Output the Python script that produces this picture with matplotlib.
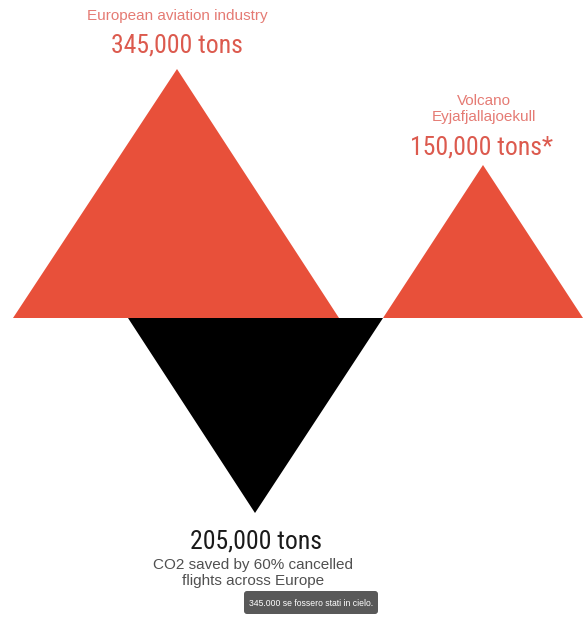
import matplotlib.pyplot as plt
from matplotlib.patches import Polygon, FancyBboxPatch

# Values shown on the infographic (tons of CO2)
labels = ["European aviation industry", "Volcano\nEyjafjallajoekull", "CO2 saved by 60% cancelled\nflights across Europe"]
values = [345000, 150000, 205000]
suffix = [" tons", " tons*", " tons"]
tooltip = "345.000 se fossero stati in cielo."

# Layout (pixel space of the image)
W, H = 587, 617
base_y = 318
shapes = [
    # (left, right, apex_x, apex_y, colour)
    (13, 339, 177, 69, "#e8503a"),
    (383, 583, 483, 165, "#e8503a"),
    (128, 383, 255, 513, "#000000"),
]

fig = plt.figure(figsize=(W / 100, H / 100), dpi=100)
ax = fig.add_axes([0, 0, 1, 1])
ax.set_xlim(0, W)
ax.set_ylim(H, 0)
ax.axis("off")

for left, right, ax_x, ax_y, col in shapes:
    tri = Polygon([(left, base_y), (right, base_y), (ax_x, ax_y)], closed=True,
                  facecolor=col, edgecolor="none")
    ax.add_patch(tri)

num_font = ["Roboto Condensed", "Liberation Sans Narrow", "Roboto", "DejaVu Sans"]
lab_font = ["Liberation Sans", "DejaVu Sans"]

def fmt(v, s):
    return f"{v:,}" + s

# European aviation
ax.text(177, 16, labels[0], ha="center", va="center", fontsize=11,
        color="#e57b74", family=lab_font)
ax.text(177, 46, fmt(values[0], suffix[0]), ha="center", va="center", fontsize=18.5,
        color="#dc5a4e", family=num_font)

# Volcano
ax.text(484, 109, labels[1], ha="center", va="center", fontsize=11,
        color="#e57b74", family=lab_font, linespacing=1.25)
ax.text(482, 147, fmt(values[1], suffix[1]), ha="center", va="center", fontsize=18.5,
        color="#dc5a4e", family=num_font)

# Saved
ax.text(256, 541, fmt(values[2], suffix[2]), ha="center", va="center", fontsize=18.5,
        color="#1a1a1a", family=num_font)
ax.text(253, 573, labels[2], ha="center", va="center", fontsize=11,
        color="#505050", family=lab_font, linespacing=1.2)

# tooltip overlay
box = FancyBboxPatch((244, 591), 134, 23, boxstyle="round,pad=0,rounding_size=3",
                     facecolor="#595959", edgecolor="none")
ax.add_patch(box)
ax.text(311, 603, tooltip, ha="center", va="center", fontsize=6.2,
        color="white", family=lab_font)

fig.savefig("out.png", dpi=100, facecolor="white")
